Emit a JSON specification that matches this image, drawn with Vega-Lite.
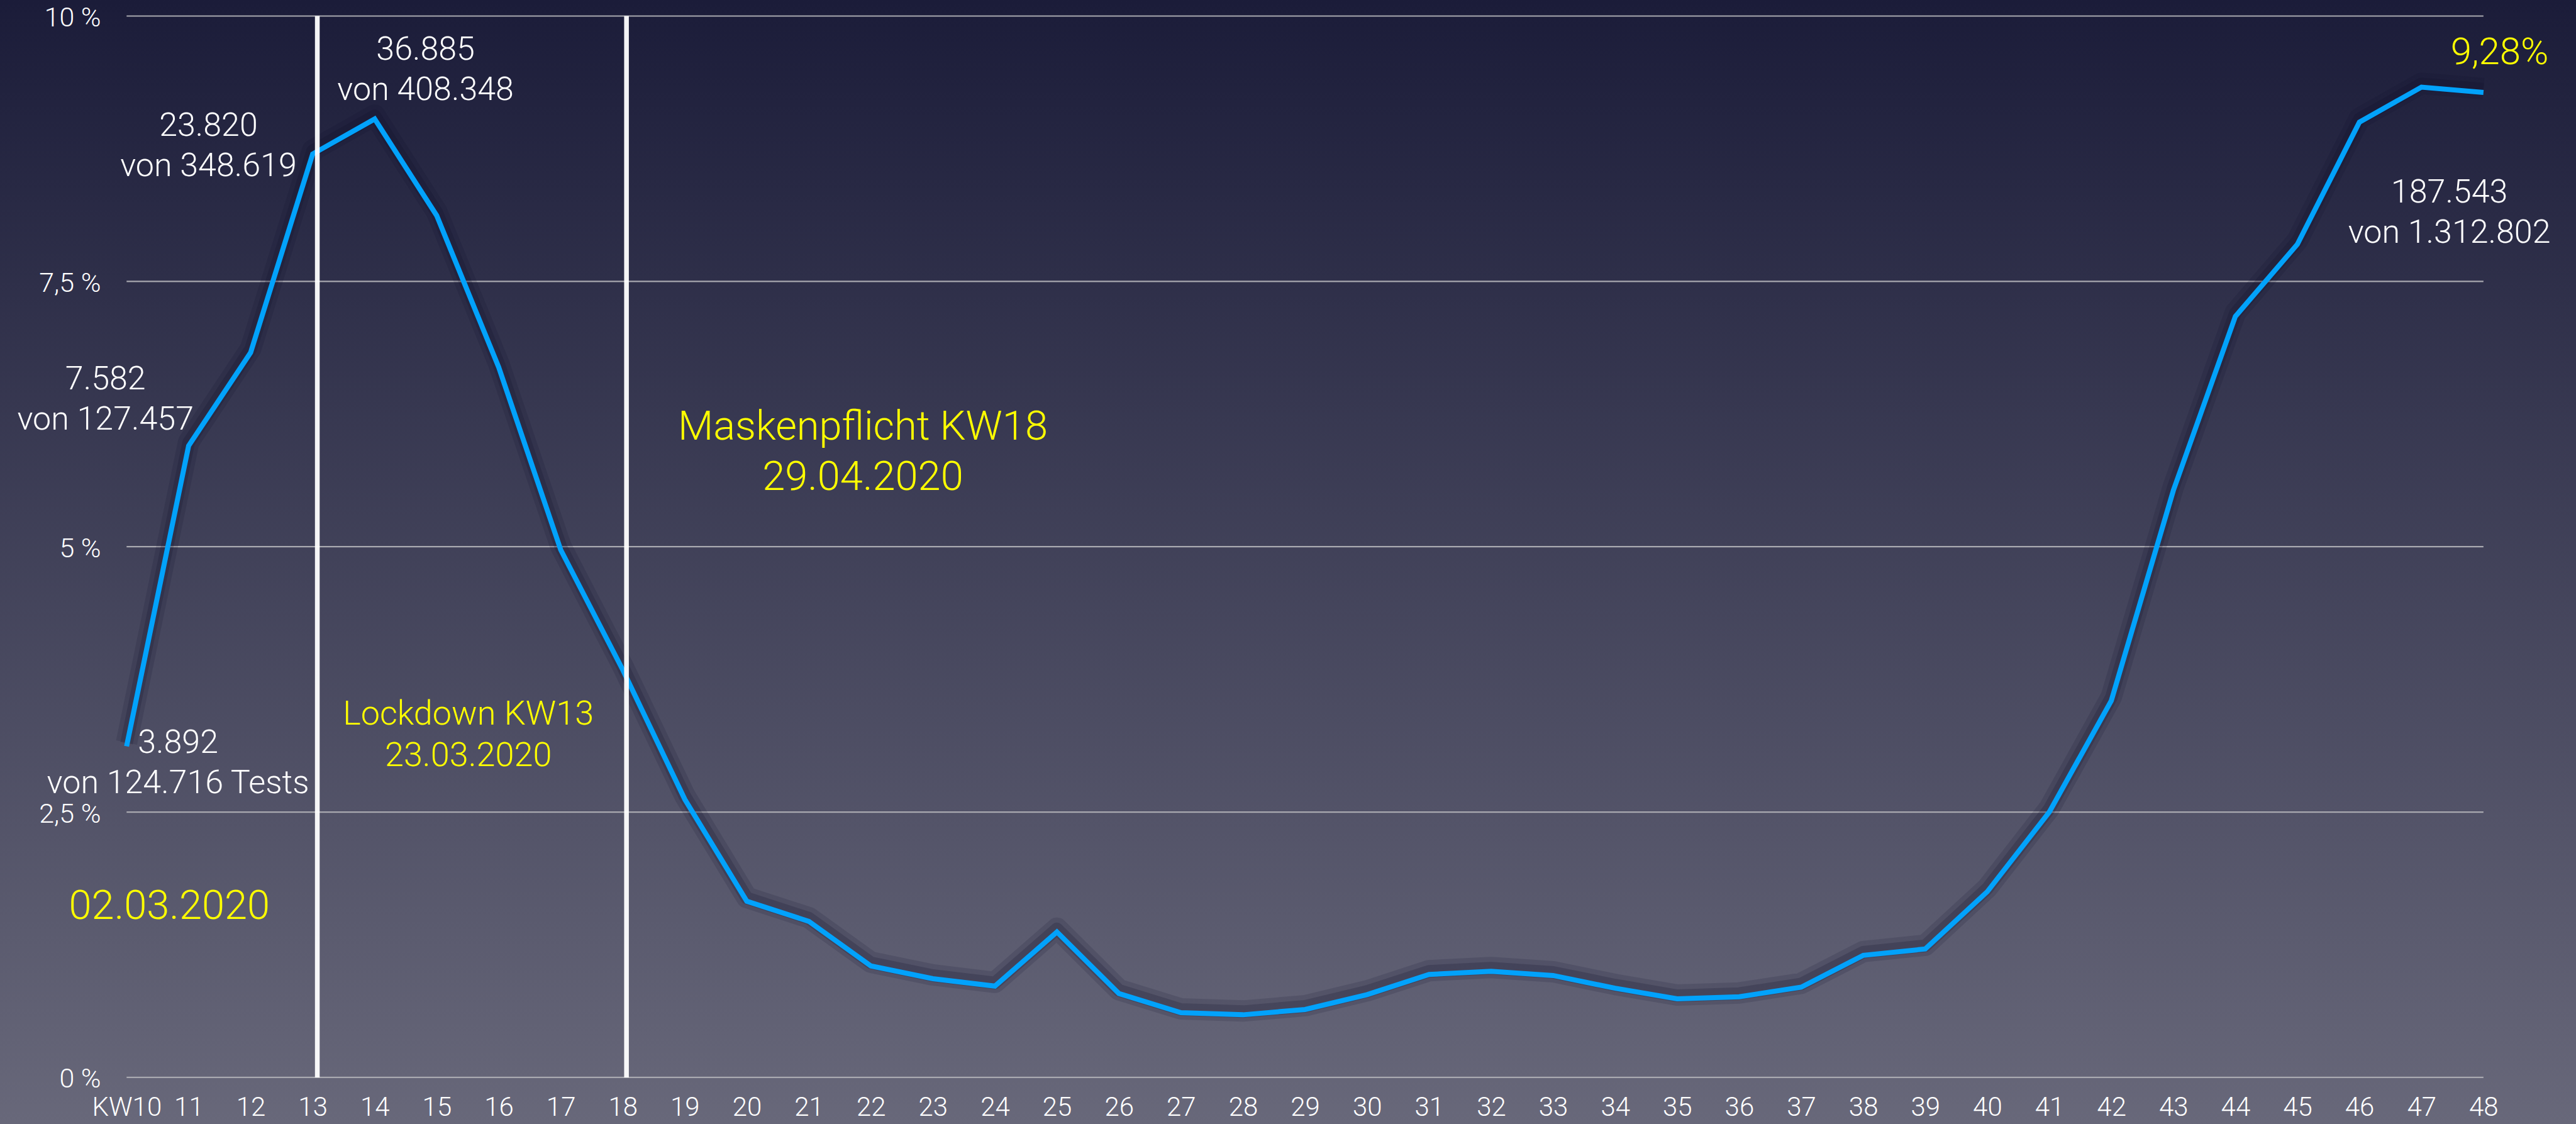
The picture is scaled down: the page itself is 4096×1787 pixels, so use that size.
{
  "$schema": "https://vega.github.io/schema/vega-lite/v6.json",
  "width": 4096,
  "height": 1787,
  "autosize": {"type": "fit", "contains": "padding"},
  "padding": 0,
  "background": "#1c1d3a",
  "view": {
    "stroke": null,
    "fill": {
      "gradient": "linear",
      "x1": 0, "y1": 0, "x2": 0, "y2": 1,
      "stops": [
        {"offset": 0, "color": "#1b1c39"},
        {"offset": 1, "color": "#68687a"}
      ]
    }
  },
  "config": {
    "font": "Roboto",
    "text": {"font": "Roboto", "fontWeight": 300},
    "axis": {"labelFont": "Roboto", "labelFontWeight": 300}
  },
  "datasets": {
    "rates": [
      {"week": 10, "pct": 3.12}, {"week": 11, "pct": 5.95}, {"week": 12, "pct": 6.83},
      {"week": 13, "pct": 8.70}, {"week": 14, "pct": 9.03}, {"week": 15, "pct": 8.12},
      {"week": 16, "pct": 6.69}, {"week": 17, "pct": 4.97}, {"week": 18, "pct": 3.84},
      {"week": 19, "pct": 2.62}, {"week": 20, "pct": 1.66}, {"week": 21, "pct": 1.47},
      {"week": 22, "pct": 1.05}, {"week": 23, "pct": 0.93}, {"week": 24, "pct": 0.86},
      {"week": 25, "pct": 1.37}, {"week": 26, "pct": 0.79}, {"week": 27, "pct": 0.61},
      {"week": 28, "pct": 0.59}, {"week": 29, "pct": 0.64}, {"week": 30, "pct": 0.78},
      {"week": 31, "pct": 0.97}, {"week": 32, "pct": 1.00}, {"week": 33, "pct": 0.96},
      {"week": 34, "pct": 0.84}, {"week": 35, "pct": 0.74}, {"week": 36, "pct": 0.76},
      {"week": 37, "pct": 0.85}, {"week": 38, "pct": 1.15}, {"week": 39, "pct": 1.21},
      {"week": 40, "pct": 1.75}, {"week": 41, "pct": 2.50}, {"week": 42, "pct": 3.55},
      {"week": 43, "pct": 5.53}, {"week": 44, "pct": 7.17}, {"week": 45, "pct": 7.85},
      {"week": 46, "pct": 9.00}, {"week": 47, "pct": 9.33}, {"week": 48, "pct": 9.28}
    ],
    "gridlines": [
      {"pct": 0}, {"pct": 2.5}, {"pct": 5}, {"pct": 7.5}, {"pct": 10}
    ],
    "events": [
      {"week": 13.075, "event": "Lockdown"},
      {"week": 18.06, "event": "Maskenpflicht"}
    ]
  },
  "layer": [
    {
      "data": {"name": "gridlines"},
      "mark": {"type": "rule", "color": "#a9a9b0", "strokeWidth": 2.2},
      "encoding": {
        "x": {"datum": 10, "type": "quantitative", "scale": {"domain": [7.959, 49.492], "nice": false, "zero": false}},
        "x2": {"datum": 48},
        "y": {"field": "pct", "type": "quantitative", "scale": {"domain": [-0.439, 10.151], "nice": false, "zero": false}}
      }
    },
    {
      "data": {"name": "rates"},
      "mark": {"type": "line", "color": "#10102a", "opacity": 0.14, "strokeWidth": 34, "yOffset": -6, "strokeJoin": "round"},
      "encoding": {
        "x": {"field": "week", "type": "quantitative", "scale": {"domain": [7.959, 49.492], "nice": false, "zero": false}},
        "y": {"field": "pct", "type": "quantitative", "scale": {"domain": [-0.439, 10.151], "nice": false, "zero": false}}
      }
    },
    {
      "data": {"name": "rates"},
      "mark": {"type": "line", "color": "#10102a", "opacity": 0.2, "strokeWidth": 20, "yOffset": -5, "strokeJoin": "round"},
      "encoding": {
        "x": {"field": "week", "type": "quantitative", "scale": {"domain": [7.959, 49.492], "nice": false, "zero": false}},
        "y": {"field": "pct", "type": "quantitative", "scale": {"domain": [-0.439, 10.151], "nice": false, "zero": false}}
      }
    },
    {
      "data": {"name": "rates"},
      "mark": {"type": "line", "color": "#02a2fb", "strokeWidth": 8, "strokeJoin": "miter"},
      "encoding": {
        "x": {
          "field": "week",
          "type": "quantitative",
          "scale": {"domain": [7.959, 49.492], "nice": false, "zero": false},
          "axis": {
            "values": [10, 11, 12, 13, 14, 15, 16, 17, 18, 19, 20, 21, 22, 23, 24, 25, 26, 27, 28, 29, 30, 31, 32, 33, 34, 35, 36, 37, 38, 39, 40, 41, 42, 43, 44, 45, 46, 47, 48],
            "labelExpr": "datum.value == 10 ? 'KW10' : toString(datum.value)",
            "orient": "bottom",
            "offset": -27,
            "domain": false,
            "ticks": false,
            "tickSize": 0,
            "grid": false,
            "labelPadding": 0,
            "labelBaseline": "middle",
            "labelFontSize": 42,
            "labelColor": "#ffffff",
            "labelOverlap": false,
            "labelFlush": false,
            "labelBound": false,
            "title": null
          }
        },
        "y": {
          "field": "pct",
          "type": "quantitative",
          "scale": {"domain": [-0.439, 10.151], "nice": false, "zero": false},
          "axis": {
            "values": [0, 2.5, 5, 7.5, 10],
            "labelExpr": "replace(toString(datum.value), '.', ',') + ' %'",
            "orient": "left",
            "offset": -160,
            "domain": false,
            "ticks": false,
            "tickSize": 0,
            "grid": false,
            "labelPadding": 0,
            "labelOffset": 3,
            "labelBaseline": "middle",
            "labelAlign": "right",
            "labelFontSize": 43,
            "labelColor": "#ffffff",
            "labelOverlap": false,
            "labelBound": false,
            "title": null
          }
        }
      }
    },
    {
      "data": {"name": "events"},
      "mark": {"type": "rule", "color": "#ffffff", "strokeWidth": 7.5, "opacity": 0.95},
      "encoding": {
        "x": {"field": "week", "type": "quantitative", "scale": {"domain": [7.959, 49.492], "nice": false, "zero": false}},
        "y": {"datum": 0, "type": "quantitative", "scale": {"domain": [-0.439, 10.151], "nice": false, "zero": false}},
        "y2": {"datum": 10}
      }
    },
    {
      "data": {"values": [
        {"week": 10.83, "pct": 3.15, "label": "3.892\nvon 124.716 Tests"},
        {"week": 9.66, "pct": 6.576, "label": "7.582\nvon 127.457"},
        {"week": 11.32, "pct": 8.963, "label": "23.820\nvon 348.619"},
        {"week": 14.82, "pct": 9.681, "label": "36.885\nvon 408.348"},
        {"week": 47.45, "pct": 8.336, "label": "187.543\nvon 1.312.802"}
      ]},
      "mark": {"type": "text", "color": "#ffffff", "fontSize": 52, "lineHeight": 64, "lineBreak": "\n", "align": "center", "baseline": "middle"},
      "encoding": {
        "x": {"field": "week", "type": "quantitative", "scale": {"domain": [7.959, 49.492], "nice": false, "zero": false}},
        "y": {"field": "pct", "type": "quantitative", "scale": {"domain": [-0.439, 10.151], "nice": false, "zero": false}},
        "text": {"field": "label", "type": "nominal"}
      }
    },
    {
      "data": {"values": [
        {"week": 15.51, "pct": 3.418, "label": "Lockdown KW13\n23.03.2020"}
      ]},
      "mark": {"type": "text", "color": "#ffff00", "fontSize": 54, "lineHeight": 66, "lineBreak": "\n", "align": "center", "baseline": "middle"},
      "encoding": {
        "x": {"field": "week", "type": "quantitative", "scale": {"domain": [7.959, 49.492], "nice": false, "zero": false}},
        "y": {"field": "pct", "type": "quantitative", "scale": {"domain": [-0.439, 10.151], "nice": false, "zero": false}},
        "text": {"field": "label", "type": "nominal"}
      }
    },
    {
      "data": {"values": [
        {"week": 21.87, "pct": 6.129, "label": "Maskenpflicht KW18\n29.04.2020"},
        {"week": 10.69, "pct": 1.613, "label": "02.03.2020"}
      ]},
      "mark": {"type": "text", "color": "#ffff00", "fontSize": 65, "lineHeight": 80, "lineBreak": "\n", "align": "center", "baseline": "middle"},
      "encoding": {
        "x": {"field": "week", "type": "quantitative", "scale": {"domain": [7.959, 49.492], "nice": false, "zero": false}},
        "y": {"field": "pct", "type": "quantitative", "scale": {"domain": [-0.439, 10.151], "nice": false, "zero": false}},
        "text": {"field": "label", "type": "nominal"}
      }
    },
    {
      "data": {"values": [
        {"week": 48.26, "pct": 9.655, "label": "9,28%"}
      ]},
      "mark": {"type": "text", "color": "#ffff00", "fontSize": 60, "align": "center", "baseline": "middle"},
      "encoding": {
        "x": {"field": "week", "type": "quantitative", "scale": {"domain": [7.959, 49.492], "nice": false, "zero": false}},
        "y": {"field": "pct", "type": "quantitative", "scale": {"domain": [-0.439, 10.151], "nice": false, "zero": false}},
        "text": {"field": "label", "type": "nominal"}
      }
    }
  ]
}
